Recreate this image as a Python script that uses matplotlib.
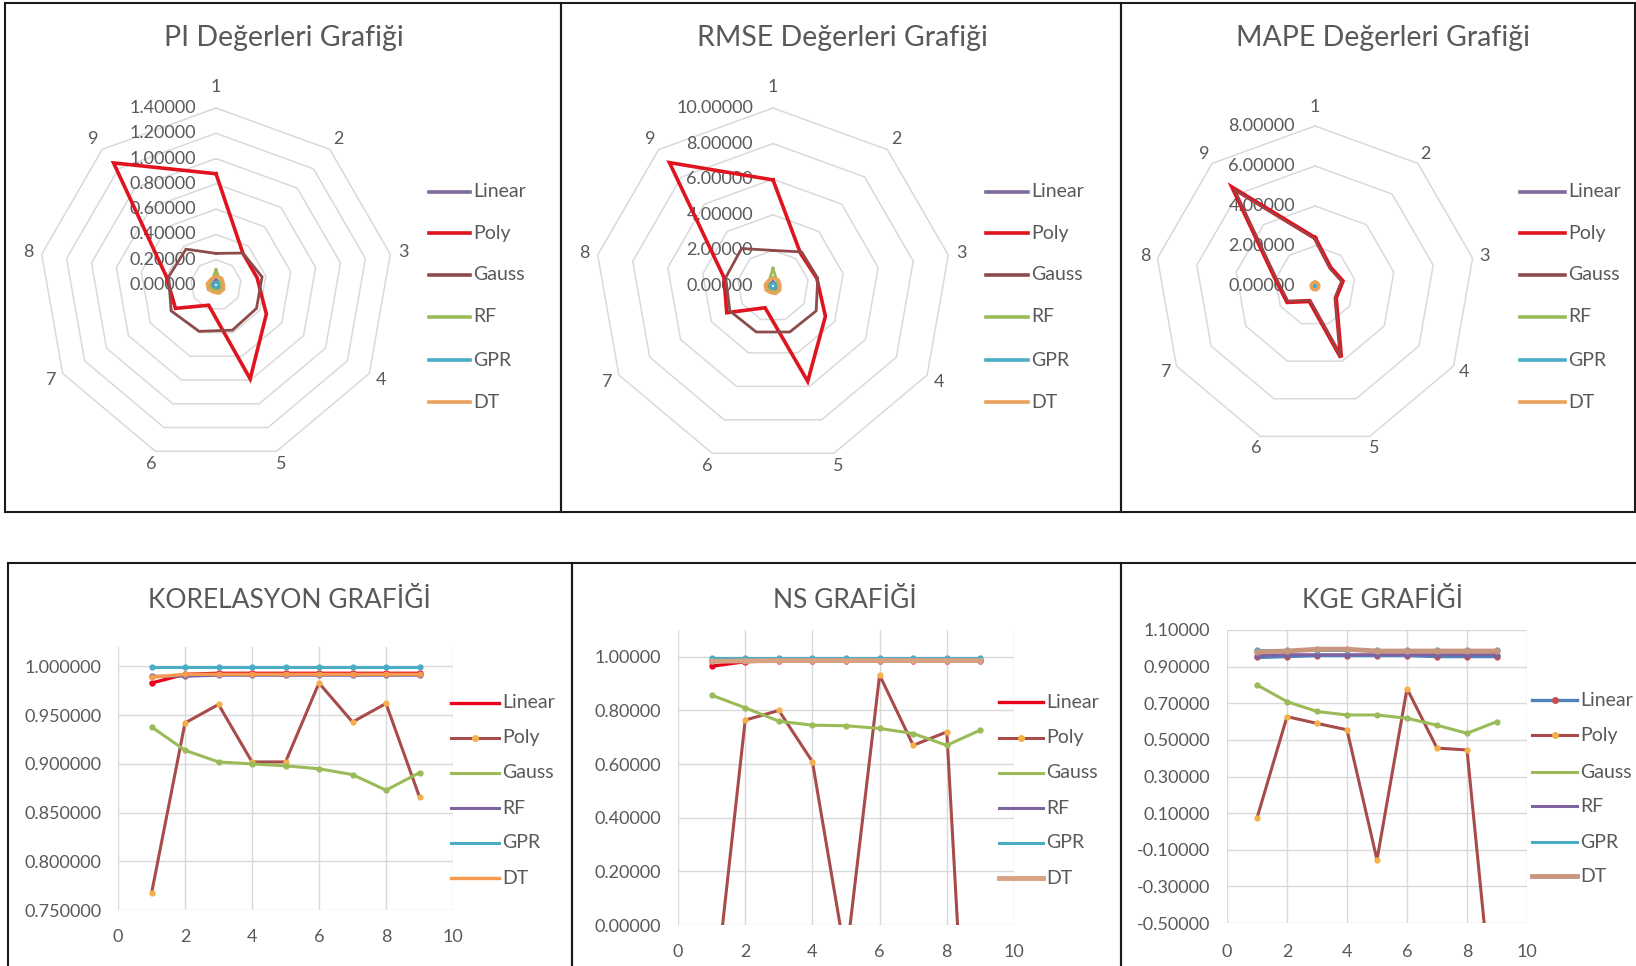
import numpy as np
import matplotlib
matplotlib.use('Agg')
import matplotlib.pyplot as plt
from matplotlib.lines import Line2D
from matplotlib.patches import Rectangle

plt.rcParams['font.family'] = ['Lato', 'DejaVu Sans']

W, H = 1636, 966
TXT = '#595959'
GRID = '#d9d9d9'

# ---------------- data ----------------
models = ['Linear', 'Poly', 'Gauss', 'RF', 'GPR', 'DT']
spokes = ['1', '2', '3', '4', '5', '6', '7', '8', '9']

# PI (radar)
pi_linear = [0.04, 0.03, 0.03, 0.04, 0.03, 0.03, 0.04, 0.03, 0.03]
pi_poly = [0.88, 0.33, 0.33, 0.46, 0.79, 0.17, 0.37, 0.40, 1.26]
pi_gauss = [0.25, 0.33, 0.37, 0.37, 0.38, 0.39, 0.41, 0.38, 0.37]
pi_rf = [0.12, 0.05, 0.04, 0.05, 0.05, 0.04, 0.05, 0.05, 0.05]
pi_gpr = [0.02, 0.02, 0.02, 0.02, 0.02, 0.02, 0.02, 0.02, 0.02]
pi_dt = [0.07, 0.07, 0.06, 0.07, 0.07, 0.06, 0.07, 0.07, 0.06]
pi_ticks = [0.0, 0.2, 0.4, 0.6, 0.8, 1.0, 1.2, 1.4]

# RMSE (radar)
rmse_linear = [0.25, 0.2, 0.2, 0.25, 0.2, 0.2, 0.25, 0.2, 0.2]
rmse_poly = [5.96, 2.4, 2.5, 3.4, 5.7, 1.3, 3.0, 2.8, 9.05]
rmse_gauss = [2.0, 2.5, 2.55, 2.8, 2.75, 2.75, 2.8, 2.7, 2.75]
rmse_rf = [1.0, 0.35, 0.3, 0.35, 0.35, 0.3, 0.35, 0.35, 0.35]
rmse_gpr = [0.15, 0.15, 0.15, 0.15, 0.15, 0.15, 0.15, 0.15, 0.15]
rmse_dt = [0.45, 0.45, 0.4, 0.45, 0.45, 0.4, 0.45, 0.45, 0.4]
rmse_ticks = [0.0, 2.0, 4.0, 6.0, 8.0, 10.0]

# MAPE (radar)
mape_linear = [0.1, 0.1, 0.1, 0.1, 0.1, 0.1, 0.1, 0.1, 0.1]
mape_poly = [2.4, 1.2, 1.4, 1.2, 3.8, 0.8, 1.6, 2.0, 6.4]
mape_gauss = [2.35, 1.15, 1.35, 1.15, 3.75, 0.75, 1.55, 1.95, 6.3]
mape_rf = [0.15, 0.15, 0.15, 0.15, 0.15, 0.15, 0.15, 0.15, 0.15]
mape_gpr = [0.1, 0.1, 0.1, 0.1, 0.1, 0.1, 0.1, 0.1, 0.1]
mape_dt = [0.2, 0.2, 0.2, 0.2, 0.2, 0.2, 0.2, 0.2, 0.2]
mape_ticks = [0.0, 2.0, 4.0, 6.0, 8.0]

# line charts
x_idx = [1, 2, 3, 4, 5, 6, 7, 8, 9]

kor_linear = [0.983, 0.992, 0.993, 0.993, 0.993, 0.993, 0.993, 0.993, 0.993]
kor_poly = [0.767, 0.942, 0.961, 0.902, 0.902, 0.983, 0.943, 0.962, 0.866]
kor_gauss = [0.938, 0.914, 0.902, 0.900, 0.898, 0.895, 0.889, 0.873, 0.891]
kor_rf = [0.990, 0.990, 0.991, 0.991, 0.991, 0.991, 0.991, 0.991, 0.991]
kor_gpr = [0.999, 0.999, 0.999, 0.999, 0.999, 0.999, 0.999, 0.999, 0.999]
kor_dt = [0.989, 0.992, 0.992, 0.992, 0.992, 0.992, 0.992, 0.992, 0.992]
kor_yticks = [0.75, 0.80, 0.85, 0.90, 0.95, 1.00]

ns_linear = [0.965, 0.982, 0.985, 0.985, 0.985, 0.985, 0.985, 0.985, 0.985]
ns_poly = [-0.37, 0.764, 0.80, 0.609, -0.13, 0.932, 0.67, 0.72, -1.53]
ns_gauss = [0.857, 0.81, 0.76, 0.745, 0.743, 0.733, 0.714, 0.67, 0.727]
ns_rf = [0.985, 0.99, 0.99, 0.99, 0.99, 0.99, 0.99, 0.99, 0.99]
ns_gpr = [0.997, 0.997, 0.997, 0.997, 0.997, 0.997, 0.997, 0.997, 0.997]
ns_dt = [0.983, 0.985, 0.986, 0.986, 0.986, 0.986, 0.986, 0.986, 0.986]
ns_yticks = [0.0, 0.2, 0.4, 0.6, 0.8, 1.0]

kge_linear = [0.95, 0.955, 0.96, 0.96, 0.96, 0.96, 0.955, 0.955, 0.955]
kge_poly = [0.073, 0.627, 0.59, 0.555, -0.155, 0.78, 0.455, 0.445, -1.21]
kge_gauss = [0.80, 0.709, 0.655, 0.636, 0.636, 0.618, 0.58, 0.536, 0.60]
kge_rf = [0.96, 0.965, 0.965, 0.965, 0.965, 0.965, 0.965, 0.965, 0.965]
kge_gpr = [0.99, 0.99, 0.99, 0.99, 0.99, 0.99, 0.99, 0.99, 0.99]
kge_dt = [0.98, 0.985, 0.995, 0.995, 0.985, 0.985, 0.985, 0.985, 0.985]
kge_yticks = [-0.5, -0.3, -0.1, 0.1, 0.3, 0.5, 0.7, 0.9, 1.1]

# ---------------- styles ----------------
radar_style = {
    'Linear': dict(color='#7F6B9E', lw=2.0),
    'Poly': dict(color='#E0141E', lw=2.6),
    'Gauss': dict(color='#8E4B4B', lw=2.0),
    'RF': dict(color='#9BBB59', lw=2.0),
    'GPR': dict(color='#4BACC6', lw=2.0),
    'DT': dict(color='#E8A25A', lw=2.4),
}

fig = plt.figure(figsize=(W / 100, H / 100), dpi=100)


def fx(x):
    return x / W


def fy(y):
    return 1 - y / H


def ax_px(left, top, right, bottom):
    return fig.add_axes([fx(left), fy(bottom), (right - left) / W, (bottom - top) / H])


def panel(x0, y0, x1, y1):
    fig.add_artist(Rectangle((fx(x0), fy(y1)), (x1 - x0) / W, (y1 - y0) / H,
                             transform=fig.transFigure, fill=False,
                             ec='#1a1a1a', lw=1.5, zorder=0))


def legend_manual(x0, x1, ys, entries, fs=14):
    for (name, st), y in zip(entries, ys):
        line = Line2D([fx(x0), fx(x1)], [fy(y), fy(y)], transform=fig.transFigure,
                      color=st['color'], lw=st.get('lw', 2.0))
        fig.add_artist(line)
        if st.get('mfc'):
            m = Line2D([fx((x0 + x1) / 2)], [fy(y)], transform=fig.transFigure,
                       color=st.get('mfc'), marker='o', ms=4, lw=0)
            fig.add_artist(m)
        fig.text(fx(x1 + 3), fy(y), name, ha='left', va='center', fontsize=fs, color=TXT)


def radar(cx, cy, R, rmax, ticks, series, title, tx, lw_over=None):
    s = 1.3
    ax = ax_px(cx - s * R, cy - s * R, cx + s * R, cy + s * R)
    ax.set_xlim(-s, s)
    ax.set_ylim(-s, s)
    ax.axis('off')
    ang = np.deg2rad(np.arange(9) * 40)
    ang_c = np.append(ang, ang[0])
    for t in ticks[1:]:
        r = t / rmax
        ax.plot(r * np.sin(ang_c), r * np.cos(ang_c), color=GRID, lw=1.1, zorder=1)
    for t in ticks:
        ax.text(-20 / R, t / rmax, f'{t:.5f}', ha='right', va='center',
                fontsize=13, color=TXT, zorder=2)
    for i, lab in enumerate(spokes):
        rl = 1.12 if i == 0 else 1.075
        ax.text(rl * np.sin(ang[i]), rl * np.cos(ang[i]), lab, ha='center', va='center',
                fontsize=13, color=TXT)
    for name, vals in series:
        r = np.array(vals) / rmax
        r_c = np.append(r, r[0])
        st = radar_style[name]
        lw = st['lw']
        if lw_over and name in lw_over:
            lw = lw_over[name]
        ax.plot(r_c * np.sin(ang_c), r_c * np.cos(ang_c), color=st['color'], lw=lw,
                zorder=3, solid_joinstyle='miter')
    fig.text(fx(tx), fy(38), title, ha='center', va='center', fontsize=20.5, color=TXT)


# ---------------- panels ----------------
panel(5, 3, 561, 512)
panel(561, 3, 1121, 512)
panel(1121, 3, 1635, 512)
panel(8, 563, 572, 975)
panel(572, 563, 1121, 975)
panel(1121, 563, 1645, 975)

radar(216, 285, 177, 1.4, pi_ticks,
      [('Linear', pi_linear), ('Poly', pi_poly), ('Gauss', pi_gauss),
       ('RF', pi_rf), ('GPR', pi_gpr), ('DT', pi_dt)],
      'PI Değerleri Grafiği', 284)
radar(773, 286, 178, 10.0, rmse_ticks,
      [('Linear', rmse_linear), ('Poly', rmse_poly), ('Gauss', rmse_gauss),
       ('RF', rmse_rf), ('GPR', rmse_gpr), ('DT', rmse_dt)],
      'RMSE Değerleri Grafiği', 842)
radar(1315, 286, 160, 8.0, mape_ticks,
      [('Linear', mape_linear), ('Poly', mape_poly), ('Gauss', mape_gauss),
       ('RF', mape_rf), ('GPR', mape_gpr), ('DT', mape_dt)],
      'MAPE Değerleri Grafiği', 1383, lw_over={'Poly': 3.2, 'Gauss': 1.3})

leg_ys_top = [192, 233, 275, 317, 360, 402]
radar_entries = [(m, dict(color=radar_style[m]['color'], lw=2.6)) for m in models]
legend_manual(429, 470, leg_ys_top, radar_entries)
legend_manual(986, 1028, leg_ys_top, radar_entries)
legend_manual(1520, 1565, leg_ys_top, radar_entries)


def line_chart(box, ylim, yticks, fmt, series, title, tx, leg, xlab_pad):
    left, top, right, bottom = box
    ax = ax_px(left, top, right, bottom)
    for name, vals, st in series:
        ax.plot(x_idx, vals, color=st['color'], lw=st['lw'], marker='o',
                ms=st.get('ms', 3.5), mfc=st.get('mfc', st['color']),
                mec=st.get('mfc', st['color']), zorder=3)
    ax.set_xlim(0, 10)
    ax.set_ylim(*ylim)
    ax.set_xticks([0, 2, 4, 6, 8, 10])
    ax.set_yticks(yticks)
    ax.set_yticklabels([fmt.format(v) for v in yticks])
    ax.grid(True, color=GRID, lw=1.0, zorder=0)
    for sp in ax.spines.values():
        sp.set_visible(False)
    ax.tick_params(length=0, labelsize=13, labelcolor=TXT)
    ax.tick_params(axis='y', pad=12)
    ax.tick_params(axis='x', pad=xlab_pad)
    ax.set_axisbelow(True)
    fig.text(fx(tx), fy(600), title, ha='center', va='center', fontsize=19, color=TXT)
    x0, x1, ys = leg
    legend_manual(x0, x1, ys, [(n, st) for n, v, st in series])


poly_st = dict(color='#A84B4B', lw=2.2, mfc='#F5B04A')
gauss_st = dict(color='#9BBB59', lw=2.2)
rf_st = dict(color='#7F63A1', lw=2.2)
gpr_st = dict(color='#4BACC6', lw=2.2)

line_chart((118, 647, 453, 910), (0.75, 1.02), kor_yticks, '{:.6f}',
           [('Linear', kor_linear, dict(color='#E8001C', lw=2.4)),
            ('Poly', kor_poly, poly_st),
            ('Gauss', kor_gauss, gauss_st),
            ('RF', kor_rf, rf_st),
            ('GPR', kor_gpr, gpr_st),
            ('DT', kor_dt, dict(color='#F59A4E', lw=2.4))],
           'KORELASYON GRAFİĞİ', 289,
           (451, 499, [703, 738, 773, 808, 843, 878]), 14)

line_chart((678, 630, 1014, 925), (0.0, 1.1), ns_yticks, '{:.5f}',
           [('Linear', ns_linear, dict(color='#E8001C', lw=2.4)),
            ('Poly', ns_poly, poly_st),
            ('Gauss', ns_gauss, gauss_st),
            ('RF', ns_rf, rf_st),
            ('GPR', ns_gpr, gpr_st),
            ('DT', ns_dt, dict(color='#D6A283', lw=3.5))],
           'NS GRAFİĞİ', 845,
           (999, 1043, [702, 738, 773, 808, 843, 878]), 14)

line_chart((1227, 630, 1527, 923), (-0.5, 1.1), kge_yticks, '{:.5f}',
           [('Linear', kge_linear, dict(color='#4F81BD', lw=2.4, mfc='#C0504D')),
            ('Poly', kge_poly, poly_st),
            ('Gauss', kge_gauss, gauss_st),
            ('RF', kge_rf, rf_st),
            ('GPR', kge_gpr, gpr_st),
            ('DT', kge_dt, dict(color='#C8957F', lw=3.5))],
           'KGE GRAFİĞİ', 1382,
           (1532, 1577, [700, 735, 772, 806, 842, 876]), 15)

fig.savefig('out.png', dpi=100, facecolor='white')
